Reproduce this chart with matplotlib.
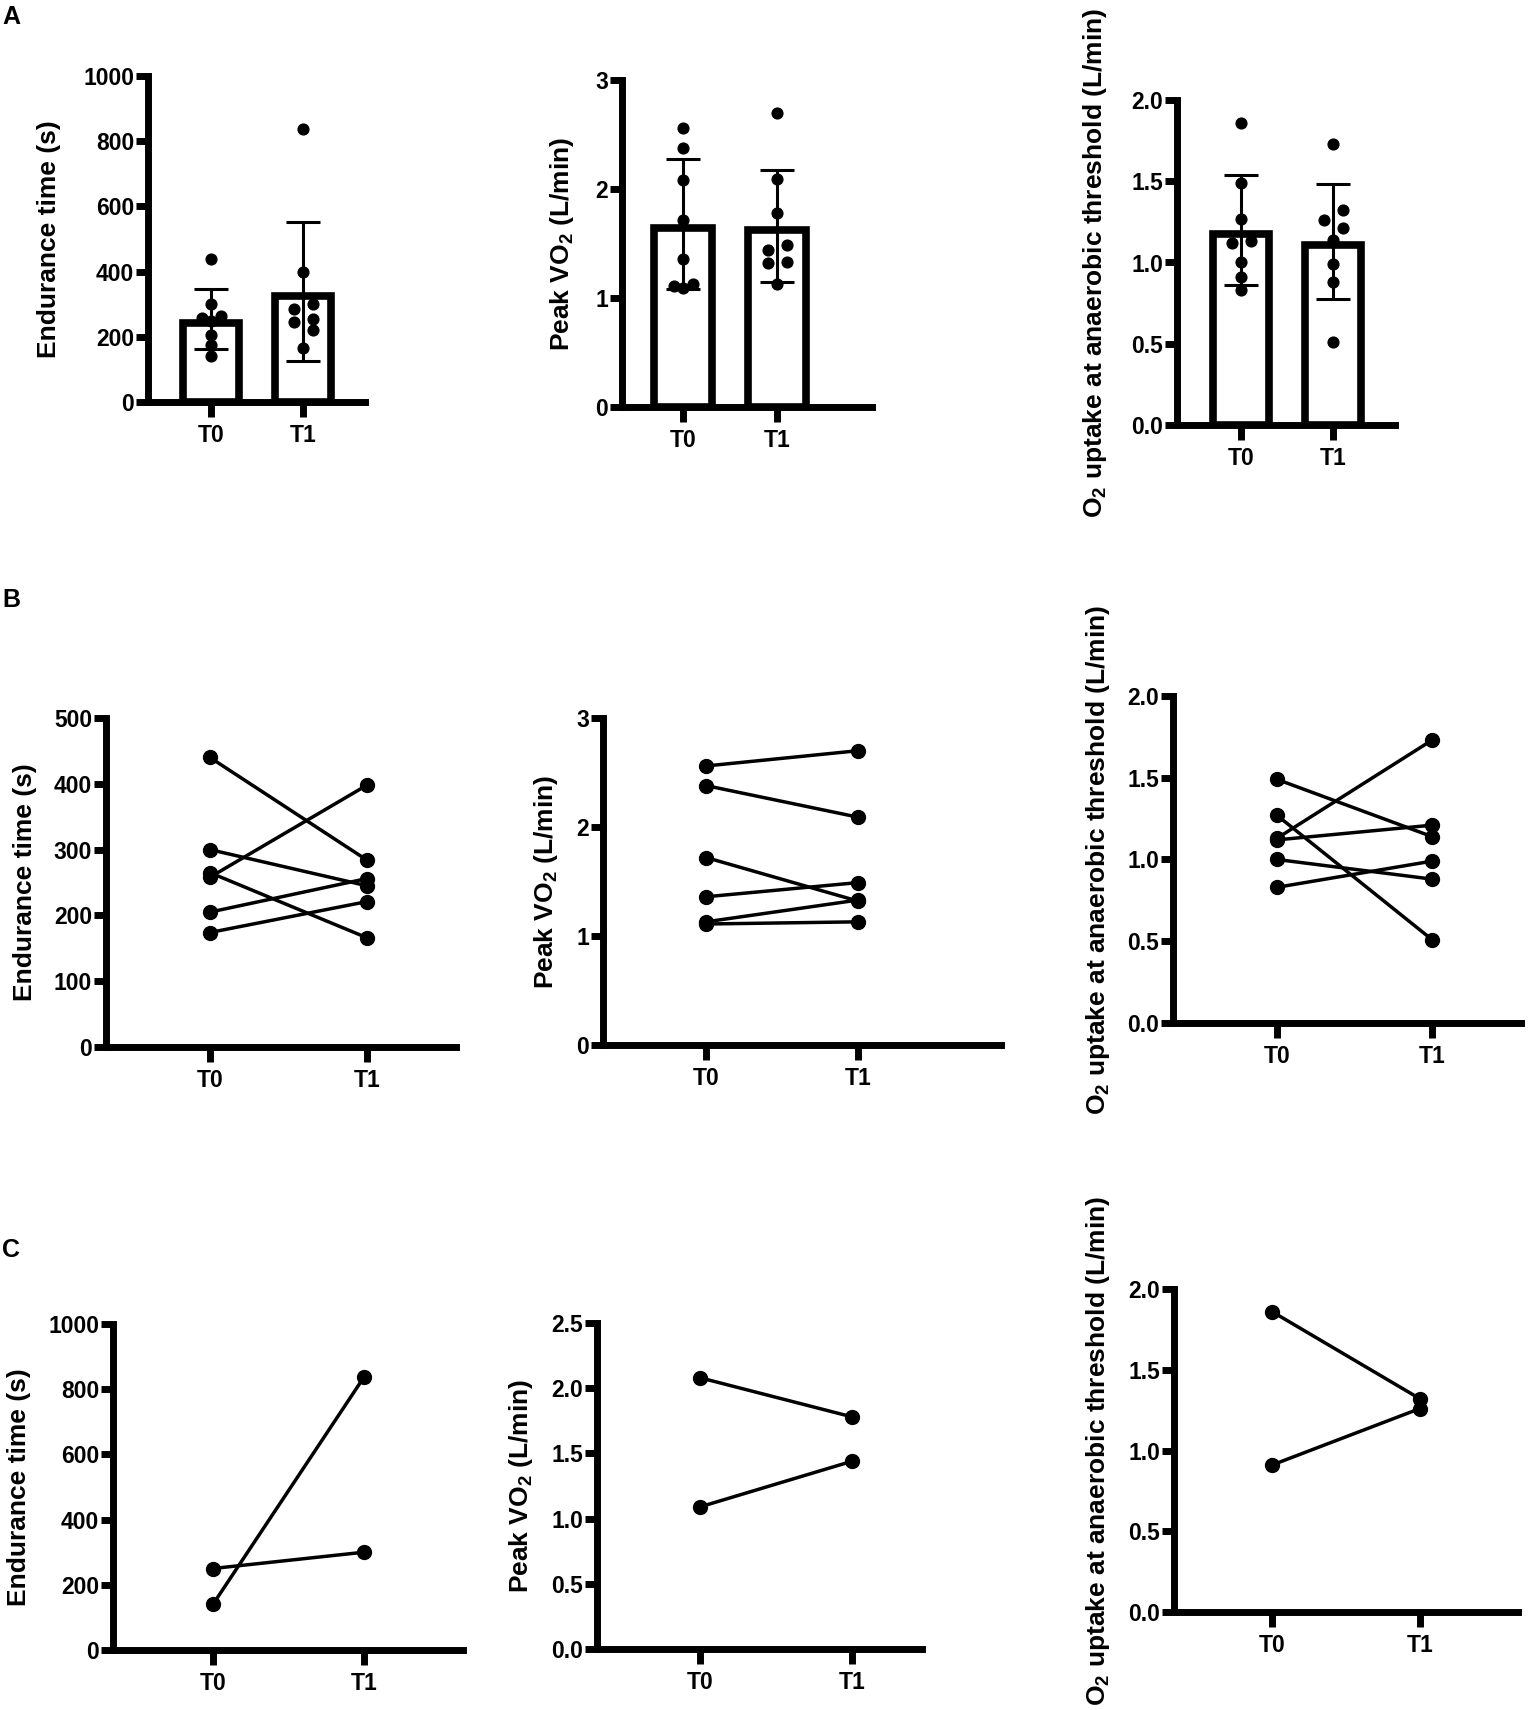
import matplotlib
matplotlib.use("Agg")
import matplotlib.pyplot as plt
import numpy as np

plt.rcParams['font.family'] = ['Liberation Sans', 'DejaVu Sans']
plt.rcParams['font.weight'] = 'bold'
plt.rcParams['mathtext.fontset'] = 'custom'
plt.rcParams['mathtext.rm'] = 'Liberation Sans:bold'
plt.rcParams['mathtext.it'] = 'Liberation Sans:bold'
plt.rcParams['mathtext.bf'] = 'Liberation Sans:bold'

# dane: 6 pacjentow (B) + 2 pacjentow (C), T0 -> T1
groups = ["T0", "T1"]

endurance_t0_b = [440, 300, 265, 258, 205, 174]
endurance_t1_b = [284, 245, 166, 398, 256, 221]
endurance_t0_c = [250, 140]
endurance_t1_c = [300, 837]

peak_t0_b = [2.56, 2.38, 1.72, 1.36, 1.13, 1.11]
peak_t1_b = [2.70, 2.09, 1.32, 1.49, 1.33, 1.13]
peak_t0_c = [2.08, 1.09]
peak_t1_c = [1.78, 1.44]

at_t0_b = [1.49, 1.27, 1.13, 1.12, 1.00, 0.83]
at_t1_b = [1.14, 0.51, 1.73, 1.21, 0.88, 0.99]
at_t0_c = [1.86, 0.91]
at_t1_c = [1.32, 1.26]

lab_end = "Endurance time (s)"
lab_peak = r"Peak VO$_2$ (L/min)"
lab_at = r"O$_2$ uptake at anaerobic threshold (L/min)"

W, H = 1535, 1710
fig = plt.figure(figsize=(W / 100, H / 100), dpi=100)

LW = 5.0
BAR_LW = 5.5


def make_ax(left, right, top, bottom, xlim, ymax, ystep, fmt):
    ax = fig.add_axes([left / W, 1 - bottom / H, (right - left) / W, (bottom - top) / H])
    ax.set_xlim(*xlim)
    ax.set_ylim(0, ymax)
    ax.set_yticks(np.arange(0, ymax + ystep / 2, ystep))
    ax.set_yticklabels([fmt.format(v) for v in np.arange(0, ymax + ystep / 2, ystep)])
    ax.set_xticks([0, 1])
    ax.set_xticklabels(groups)
    for s in ["top", "right"]:
        ax.spines[s].set_visible(False)
    for s in ["left", "bottom"]:
        ax.spines[s].set_linewidth(LW)
    ax.tick_params(axis="y", length=9, width=LW, pad=1, labelsize=16.5)
    ax.tick_params(axis="x", length=11, width=LW, pad=5, labelsize=16.5)
    return ax


def px_scale(ax):
    p0 = ax.transData.transform((0, 0))
    p1 = ax.transData.transform((1, 1))
    return p1[0] - p0[0], p1[1] - p0[1]


def swarm(ax, vals, diam=10, step=19):
    # proste rozrzucenie punktow ktore na siebie nachodza
    vals = np.asarray(vals, float)
    pxx, pxy = px_scale(ax)
    order = np.argsort(-vals)
    offs = np.zeros(len(vals))
    clusters = [[order[0]]]
    for a, b in zip(order[:-1], order[1:]):
        if (vals[a] - vals[b]) * pxy < diam:
            clusters[-1].append(b)
        else:
            clusters.append([b])
    for cl in clusters:
        if len(cl) == 1:
            continue
        placed = []
        for i, idx in enumerate(cl):
            o = step / 2 if i % 2 == 0 else -step / 2
            for j in placed:
                if offs[j] * pxx == o and abs(vals[j] - vals[idx]) * pxy < diam:
                    o = 0
            offs[idx] = o / pxx
            placed.append(idx)
    return offs


def bar_panel(ax, t0, t1, label, labelpad):
    pxx, pxy = px_scale(ax)
    inset = BAR_LW * 100 / 72 / 2 / pxy  # ramka w srodku slupka (jak w Prism)
    for i, v in enumerate([t0, t1]):
        v = np.asarray(v, float)
        m, sd = v.mean(), v.std(ddof=1)
        ax.bar(i, m - inset, width=0.61, color="white", edgecolor="black", linewidth=BAR_LW, zorder=2)
        ax.errorbar(i, m, yerr=sd, fmt="none", ecolor="black", elinewidth=2.2,
                    capsize=12, capthick=2.2, zorder=3)
        ax.scatter(i + swarm(ax, v), v, s=60, color="black", zorder=4, clip_on=False)
    ax.set_ylabel(label, fontsize=19, fontweight="bold", labelpad=labelpad)


def line_panel(ax, t0, t1, label, labelpad):
    for a, b in zip(t0, t1):
        ax.plot([0, 1], [a, b], color="black", lw=2.5, marker="o", ms=10, zorder=3, clip_on=False)
    ax.set_ylabel(label, fontsize=19, fontweight="bold", labelpad=labelpad)


# A
ax = make_ax(148, 365, 76, 402, (-0.685, 1.674), 1000, 200, "{:.0f}")
bar_panel(ax, endurance_t0_b + endurance_t0_c, endurance_t1_b + endurance_t1_c, lab_end, 16)
ax = make_ax(622, 872, 80, 407, (-0.649, 2.01), 3, 1, "{:.0f}")
bar_panel(ax, peak_t0_b + peak_t0_c, peak_t1_b + peak_t1_c, lab_peak, 14)
ax = make_ax(1177, 1395, 100, 425, (-0.696, 1.674), 2.0, 0.5, "{:.1f}")
bar_panel(ax, at_t0_b + at_t0_c, at_t1_b + at_t1_c, lab_at, 16)

# B
ax = make_ax(106, 456, 718, 1047, (-0.662, 1.567), 500, 100, "{:.0f}")
line_panel(ax, endurance_t0_b, endurance_t1_b, lab_end, 12)
ax = make_ax(603, 1001, 718, 1045, (-0.678, 1.94), 3, 1, "{:.0f}")
line_panel(ax, peak_t0_b, peak_t1_b, lab_peak, 12)
ax = make_ax(1173, 1521, 696, 1023, (-0.671, 1.574), 2.0, 0.5, "{:.1f}")
line_panel(ax, at_t0_b, at_t1_b, lab_at, 11)

# C
ax = make_ax(113, 463, 1324, 1650, (-0.662, 1.656), 1000, 200, "{:.0f}")
line_panel(ax, endurance_t0_c, endurance_t1_c, lab_end, 12)
ax = make_ax(597, 922, 1323, 1649, (-0.678, 1.46), 2.5, 0.5, "{:.1f}")
line_panel(ax, peak_t0_c, peak_t1_c, lab_peak, 12)
ax = make_ax(1174, 1518, 1289, 1612, (-0.662, 1.662), 2.0, 0.5, "{:.1f}")
line_panel(ax, at_t0_c, at_t1_c, lab_at, 12)

for txt, y in [("A", 5), ("B", 588), ("C", 1238)]:
    fig.text(2 / W, 1 - y / H, txt, fontsize=18, fontweight="bold", va="top", ha="left")

fig.savefig("out.png", dpi=100, facecolor="white")
